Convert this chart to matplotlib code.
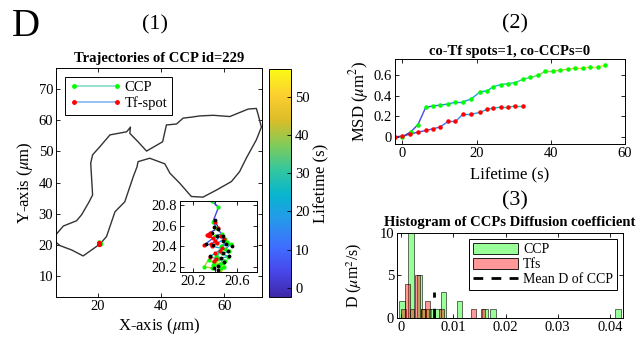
import numpy as np
import matplotlib
matplotlib.use('Agg')
import matplotlib.pyplot as plt
from matplotlib.collections import LineCollection
from matplotlib.colors import LinearSegmentedColormap, Normalize
from matplotlib.cm import ScalarMappable
from matplotlib.lines import Line2D
from matplotlib.patches import Patch

plt.rcParams['font.family'] = 'Liberation Serif'
plt.rcParams['mathtext.fontset'] = 'stix'
plt.rcParams['xtick.direction'] = 'in'
plt.rcParams['ytick.direction'] = 'in'
plt.rcParams['axes.linewidth'] = 0.7

# parula-like colormap (lifetime colouring)
parula = LinearSegmentedColormap.from_list('parula', [
    (0.2422, 0.1504, 0.6603), (0.2803, 0.2782, 0.9221), (0.2440, 0.4358, 0.9988),
    (0.1540, 0.5902, 0.9218), (0.0297, 0.7082, 0.8163), (0.1938, 0.7758, 0.6251),
    (0.5044, 0.7993, 0.3480), (0.8634, 0.7406, 0.1596), (0.9892, 0.8136, 0.1885),
    (0.9769, 0.9839, 0.0805)])
norm = Normalize(-2.4, 57.3)

# cell outline (um)
cell_x = [5.5, 9.0, 13.2, 14.8, 17.2, 18.3, 17.7, 18.3, 20.6, 23.8, 27.5, 29.1, 30.3, 30.1,
          32.7, 35.4, 40.5, 41.7, 44.9, 47.0, 49.6, 52.3, 56.5, 61.8, 67.6, 70.2, 70.7, 71.8,
          70.2, 67.0, 64.9, 62.3, 57.6, 53.3, 49.6, 45.9, 42.8, 41.2, 36.4, 32.7, 32.4, 31.2,
          28.5, 25.4, 22.7, 20.6, 15.3, 11.7, 8.0, 5.5]
cell_y = [21.8, 26.0, 27.7, 29.6, 33.8, 36.0, 46.2, 48.9, 51.5, 55.3, 56.0, 56.3, 57.8, 55.8,
          53.1, 50.1, 53.1, 58.5, 58.8, 60.7, 61.0, 61.4, 61.6, 61.2, 63.6, 63.8, 62.1, 57.8,
          53.7, 47.8, 43.5, 40.3, 37.6, 35.3, 35.5, 39.8, 43.0, 46.0, 47.8, 46.7, 45.1, 41.9,
          33.8, 30.6, 22.6, 20.2, 16.4, 18.3, 19.7, 21.8]

# trajectories (um)
ccp_x = [20.37, 20.43, 20.38, 20.41, 20.46, 20.40, 20.49, 20.51, 20.45, 20.54, 20.49, 20.53,
         20.46, 20.52, 20.43, 20.49, 20.41, 20.47, 20.38, 20.45, 20.34, 20.30, 20.37, 20.43,
         20.45, 20.48, 20.39, 20.44]
ccp_y = [20.84, 20.78, 20.64, 20.58, 20.52, 20.50, 20.47, 20.44, 20.40, 20.42, 20.37, 20.35,
         20.33, 20.30, 20.28, 20.26, 20.31, 20.24, 20.22, 20.19, 20.27, 20.20, 20.19, 20.22,
         20.14, 20.20, 20.25, 20.23]
tf_x = [20.40, 20.43, 20.35, 20.33, 20.38, 20.30, 20.36, 20.40, 20.45, 20.48, 20.42, 20.37,
        20.46, 20.40, 20.35, 20.41, 20.44, 20.39]
tf_y = [20.64, 20.58, 20.53, 20.51, 20.48, 20.41, 20.42, 20.45, 20.50, 20.47, 20.43, 20.40,
        20.38, 20.33, 20.30, 20.28, 20.35, 20.26]
blk_x = [20.40, 20.39, 20.43, 20.37, 20.42, 20.47, 20.32, 20.38, 20.47, 20.50, 20.55, 20.52,
         20.47, 20.53, 20.45, 20.48, 20.43, 20.39, 20.43, 20.35]
blk_y = [20.66, 20.59, 20.57, 20.53, 20.50, 20.50, 20.42, 20.41, 20.45, 20.42, 20.40, 20.35,
         20.33, 20.31, 20.29, 20.25, 20.21, 20.19, 20.17, 20.31]

# MSD curves
ccp_t = [0, 2.3, 4.2, 6.3, 8.2, 10.2, 12.3, 14.3, 16.3, 18.5, 21.0, 22.9, 24.5, 26.5, 28.5,
         30.4, 32.4, 34.4, 36.6, 38.4, 40.5, 42.5, 44.5, 46.5, 48.6, 50.5, 52.6, 54.6]
ccp_msd = [0, 0.05, 0.12, 0.29, 0.30, 0.31, 0.32, 0.34, 0.34, 0.37, 0.44, 0.45, 0.49, 0.51,
           0.52, 0.53, 0.56, 0.58, 0.60, 0.64, 0.64, 0.65, 0.66, 0.67, 0.67, 0.68, 0.68, 0.70]
tf_t = [-2.0, 0, 2.0, 4.2, 6.3, 8.2, 10.2, 12.3, 14.3, 16.3, 18.5, 21.0, 22.9, 24.5, 26.5,
        28.5, 30.4, 32.4]
tf_msd = [0, 0.007, 0.026, 0.046, 0.062, 0.078, 0.097, 0.15, 0.15, 0.22, 0.22, 0.24, 0.27,
          0.28, 0.29, 0.29, 0.30, 0.30]

# diffusion coefficient histogram
ccp_d = [0.0001, 0.0019, 0.0035, 0.0043, 0.0051, 0.0058, 0.0071, 0.0081, 0.0112, 0.0160,
         0.0176, 0.0416]
ccp_n = [2, 10, 5, 1, 1, 1, 1, 3, 2, 1, 1, 1]
tf_d = [0.0004, 0.0012, 0.0021, 0.0031, 0.0043, 0.0050, 0.0077, 0.0138, 0.0157]
tf_n = [1, 4, 1, 5, 1, 2, 1, 1, 1]
mean_d = 0.00625


def colored_line(ax, t, x, y, lw=1.0):
    pts = np.column_stack([x, y]).reshape(-1, 1, 2)
    segs = np.concatenate([pts[:-1], pts[1:]], axis=1)
    tm = 0.5 * (np.array(t[:-1]) + np.array(t[1:]))
    lc = LineCollection(segs, cmap=parula, norm=norm, linewidths=lw)
    lc.set_array(tm)
    ax.add_collection(lc)


def box_ticks(ax):
    ax.tick_params(top=True, right=True, length=3, width=0.6, labelsize=10.5, pad=2)


fig = plt.figure(figsize=(6.4, 3.37), dpi=100)

fig.text(0.041, 0.922, 'D', fontsize=28, ha='center', va='center')
fig.text(0.242, 0.925, '(1)', fontsize=16, ha='center', va='center')
fig.text(0.805, 0.93, '(2)', fontsize=16, ha='center', va='center')
fig.text(0.805, 0.403, '(3)', fontsize=16, ha='center', va='center')

# (1) trajectories
ax1 = fig.add_axes([0.0875, 0.1187, 0.3219, 0.6795])
ax1.plot(cell_x, cell_y, color='#333333', lw=1.0)
ccp_tt = np.linspace(0, 54.6, len(ccp_x))
tf_tt = np.linspace(-2, 32.4, len(tf_x))
colored_line(ax1, ccp_tt, ccp_x, ccp_y)
colored_line(ax1, tf_tt, tf_x, tf_y)
ax1.plot(ccp_x, ccp_y, '.', color='#00ff00', ms=4)
ax1.plot(tf_x, tf_y, '.', color='red', ms=4)
ax1.set_xlim(6.7, 72)
ax1.set_ylim(3.2, 76.8)
ax1.set_xticks([20, 40, 60])
ax1.set_yticks([10, 20, 30, 40, 50, 60, 70])
box_ticks(ax1)
ax1.set_xlabel(r'X-axis ($\mu$m)', fontsize=12)
ax1.set_ylabel(r'Y-axis ($\mu$m)', fontsize=12)
ax1.xaxis.set_label_coords(0.5, -0.085)
ax1.yaxis.set_label_coords(-0.10, 0.5)
ax1.set_title('Trajectories of CCP id=229', fontsize=10.5, fontweight='bold', pad=4)
leg_h = [Line2D([], [], color='#86d9c8', lw=1.2, marker='.', ms=5, mfc='#00ff00', mec='#00ff00'),
         Line2D([], [], color='#86b4f2', lw=1.2, marker='.', ms=5, mfc='red', mec='red')]
leg1 = ax1.legend(leg_h, ['CCP', 'Tf-spot'], loc='upper left', numpoints=2, fontsize=10.5,
                  fancybox=False, edgecolor='black', framealpha=1, borderpad=0.3,
                  handlelength=3.6, handletextpad=0.2, labelspacing=0.15,
                  borderaxespad=0.6)
leg1.get_frame().set_linewidth(0.7)

# inset
axi = fig.add_axes([0.28125, 0.1929, 0.1203, 0.2107])
colored_line(axi, ccp_tt, ccp_x, ccp_y)
colored_line(axi, tf_tt, tf_x, tf_y)
axi.plot(ccp_x, ccp_y, '.', color='#00ff00', ms=4)
axi.plot(tf_x, tf_y, '.', color='red', ms=4)
axi.plot(blk_x, blk_y, '.', color='black', ms=3.5)
axi.plot([20.34], [20.51], 'o', color='red', ms=3)
axi.set_xlim(20.08, 20.78)
axi.set_ylim(20.15, 20.84)
axi.set_xticks([20.2, 20.4, 20.6])
axi.set_xticklabels(['20.2', '', '20.6'])
axi.set_yticks([20.2, 20.4, 20.6, 20.8])
axi.set_yticklabels(['20.2', '20.4', '20.6', '20.8'])
box_ticks(axi)

# colorbar
cax = fig.add_axes([0.4203, 0.1187, 0.0344, 0.6766])
cb = fig.colorbar(ScalarMappable(norm=norm, cmap=parula), cax=cax)
cb.set_ticks([0, 10, 20, 30, 40, 50])
cb.ax.tick_params(direction='in', length=3, width=0.6, labelsize=10.5, pad=3)
cb.outline.set_linewidth(0.7)
cb.set_label('Lifetime (s)', fontsize=12)
cb.ax.yaxis.set_label_coords(2.0, 0.5)

# (2) MSD
ax2 = fig.add_axes([0.6172, 0.5727, 0.3594, 0.2522])
colored_line(ax2, ccp_t, ccp_t, ccp_msd)
colored_line(ax2, tf_t, tf_t, tf_msd)
ax2.plot(ccp_t, ccp_msd, '.', color='#00ff00', ms=4.5)
ax2.plot(tf_t, tf_msd, '.', color='red', ms=4.5)
ax2.set_xlim(-2, 60)
ax2.set_ylim(-0.07, 0.76)
ax2.set_xticks([0, 20, 40, 60])
ax2.set_yticks([0, 0.2, 0.4, 0.6])
ax2.set_yticklabels(['0', '0.2', '0.4', '0.6'])
box_ticks(ax2)
ax2.set_xlabel('Lifetime (s)', fontsize=12)
ax2.set_ylabel(r'MSD ($\mu$m$^2$)', fontsize=12)
ax2.xaxis.set_label_coords(0.5, -0.27)
ax2.yaxis.set_label_coords(-0.104, 0.5)
ax2.set_title('co-Tf spots=1, co-CCPs=0', fontsize=10.5, fontweight='bold', pad=3)

# (3) histogram
ax3 = fig.add_axes([0.6203, 0.0564, 0.3531, 0.2522])
ax3.bar(ccp_d, ccp_n, width=0.0011, color=(0.0, 1.0, 0.0, 0.4), edgecolor='black', lw=0.4)
ax3.bar(tf_d, tf_n, width=0.0009, color=(1.0, 0.0, 0.0, 0.4), edgecolor='black', lw=0.4)
ax3.plot([mean_d, mean_d], [0, 3], color='black', lw=2, dashes=(3.5, 4))
ax3.set_xlim(-0.0008, 0.0425)
ax3.set_ylim(0, 10)
ax3.set_xticks([0, 0.01, 0.02, 0.03, 0.04])
ax3.set_xticklabels(['0', '0.01', '0.02', '0.03', '0.04'])
ax3.set_yticks([0, 5, 10])
box_ticks(ax3)
ax3.set_ylabel(r'D ($\mu$m$^2$/s)', fontsize=11.5)
ax3.yaxis.set_label_coords(-0.146, 0.5)
ax3.set_title('Histogram of CCPs Diffusion coefficient', fontsize=10.5, fontweight='bold', pad=5)
leg_h3 = [Patch(facecolor=(0.0, 1.0, 0.0, 0.4), edgecolor='black', lw=0.6),
          Patch(facecolor=(1.0, 0.0, 0.0, 0.4), edgecolor='black', lw=0.6),
          Line2D([], [], color='black', lw=2, dashes=(3.5, 3))]
leg3 = ax3.legend(leg_h3, ['CCP', 'Tfs', 'Mean D of CCP'], loc='upper right', fontsize=10,
                  fancybox=False, edgecolor='black', framealpha=1, borderpad=0.3,
                  handlelength=3.2, handleheight=0.9, handletextpad=0.4, labelspacing=0.1,
                  borderaxespad=0.4)
leg3.get_frame().set_linewidth(0.7)

fig.savefig('out.png', dpi=100)
